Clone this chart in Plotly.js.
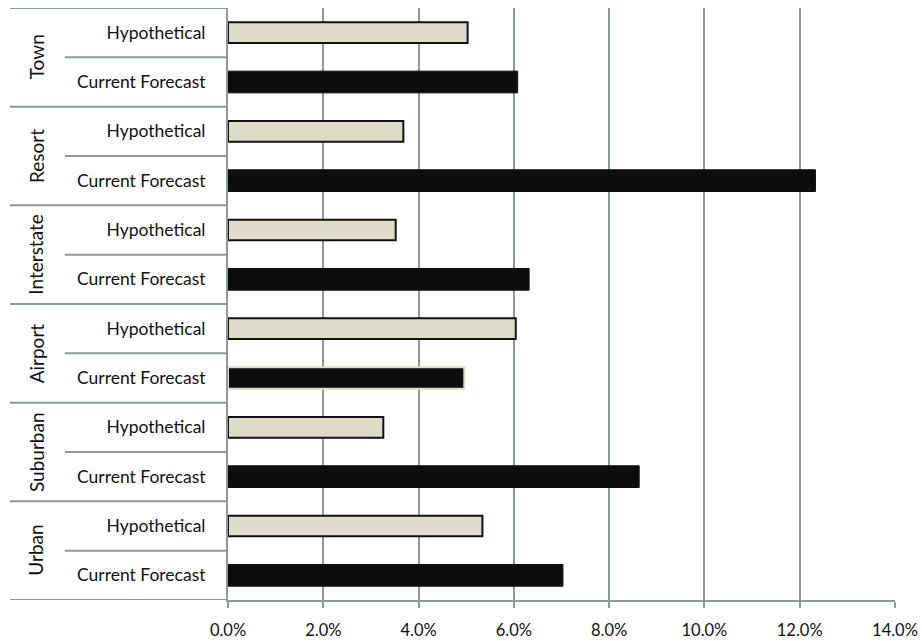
<!DOCTYPE html>
<html>
<head>
<meta charset="utf-8">
<script src="https://cdn.plot.ly/plotly-3.0.1.min.js"></script>
<style>html,body{margin:0;padding:0;background:#fff;}#chart{width:922px;height:641px;}</style>
</head>
<body>
<div id="chart"></div>
<script>
// Data (bottom to top, as in the source sheet)
const groups = ['Urban', 'Suburban', 'Airport', 'Interstate', 'Resort', 'Town'];
const subLabels = ['Current Forecast', 'Hypothetical'];
const hypothetical = [0.0534, 0.0326, 0.0604, 0.0352, 0.0368, 0.0503];
const currentForecast = [0.0703, 0.0863, 0.0496, 0.0632, 0.1233, 0.0608];
const xTickVals = [0, 0.02, 0.04, 0.06, 0.08, 0.10, 0.12, 0.14];

// Positions on a numeric y axis: each group gets two slots
const yCF = groups.map((g, i) => 2 * i);
const yHyp = groups.map((g, i) => 2 * i + 1);
const tickVals = [], tickText = [];
groups.forEach((g, i) => {
  tickVals.push(2 * i, 2 * i + 1);
  tickText.push(subLabels[0], subLabels[1]);
});

const gridCol = '#8e9996';
const fam = 'Lato, "Open Sans", sans-serif';
const font = {family: fam, size: 16.5, color: '#111'};
const yFont = {family: fam, size: 17.5, color: '#111'};
const gFont = {family: fam, size: 19, color: '#111'};

const cfLineColors = groups.map(g => g === 'Airport' ? '#dddcc8' : '#0d0d0d');
const cfLineWidths = groups.map(g => g === 'Airport' ? 2 : 1);

const traces = [
  {
    type: 'bar', orientation: 'h', name: 'Hypothetical',
    x: hypothetical, y: yHyp, width: 0.42,
    marker: {color: '#dddcc8', line: {color: '#111', width: 2}},
    hoverinfo: 'x'
  },
  {
    type: 'bar', orientation: 'h', name: 'Current Forecast',
    x: currentForecast, y: yCF, width: 0.44,
    marker: {color: '#0d0d0d', line: {color: cfLineColors, width: cfLineWidths}},
    hoverinfo: 'x'
  }
];

const xLeftGroup = (10 - 228) / 667;
const xLeftSub = (65 - 228) / 667;
const shapes = [];
for (let i = 0; i <= groups.length; i++) {
  shapes.push({type: 'line', xref: 'paper', yref: 'y', x0: xLeftGroup, x1: 0,
    y0: 2 * i - 0.5, y1: 2 * i - 0.5, line: {color: gridCol, width: 2}, layer: 'below'});
}
groups.forEach((g, i) => {
  shapes.push({type: 'line', xref: 'paper', yref: 'y', x0: xLeftSub, x1: 0,
    y0: 2 * i + 0.5, y1: 2 * i + 0.5, line: {color: gridCol, width: 2}, layer: 'below'});
});

const annotations = groups.map((g, i) => ({
  xref: 'paper', yref: 'y', x: (36 - 228) / 667, y: 2 * i + 0.5,
  text: g, textangle: -90, showarrow: false, font: gFont,
  xanchor: 'center', yanchor: 'middle'
}));

const layout = {
  width: 922, height: 641,
  margin: {l: 228, r: 27, t: 8, b: 41},
  paper_bgcolor: '#fff', plot_bgcolor: '#fff',
  showlegend: false,
  barmode: 'overlay',
  font: font,
  xaxis: {
    range: [0, 0.14], tickvals: xTickVals, tickformat: '.1%',
    showgrid: true, gridcolor: gridCol, gridwidth: 2,
    showline: true, linecolor: gridCol, linewidth: 2,
    ticks: 'outside', ticklen: 6, tickcolor: gridCol, tickwidth: 2,
    ticklabelstandoff: 8,
    zeroline: false, tickfont: font, fixedrange: true
  },
  yaxis: {
    range: [-0.5, 11.5], tickvals: tickVals, ticktext: tickText,
    showgrid: false, zeroline: false,
    showline: true, linecolor: gridCol, linewidth: 2,
    ticks: '', ticklabelstandoff: 17,
    tickfont: yFont, fixedrange: true
  },
  shapes: shapes,
  annotations: annotations
};

Plotly.newPlot('chart', traces, layout, {displayModeBar: false, staticPlot: true});
</script>
</body>
</html>
